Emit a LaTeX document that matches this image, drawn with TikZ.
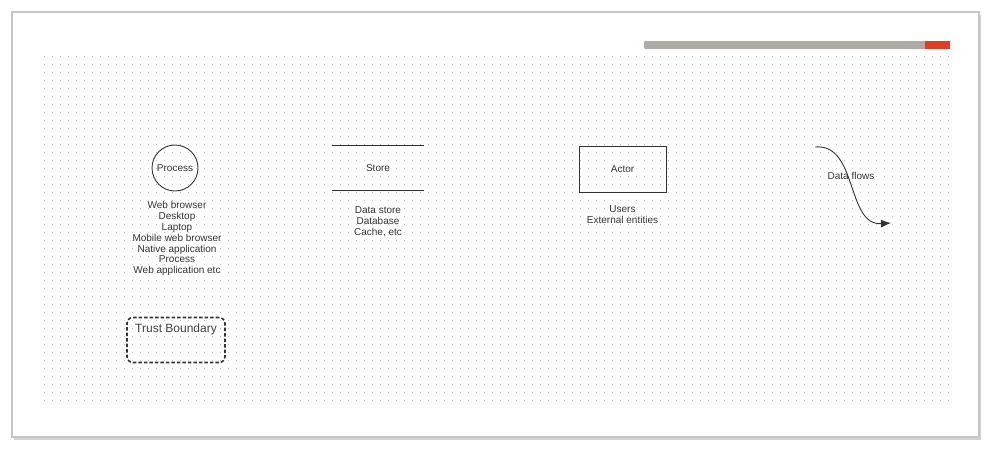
\documentclass[tikz,border=0pt]{standalone}
\usepackage{fontspec}
\setmainfont{Liberation Sans}
\usetikzlibrary{arrows,arrows.meta,calc,positioning,shadows}
\definecolor{ink}{HTML}{333333}
\definecolor{dotc}{HTML}{C4C4C4}
\definecolor{barg}{HTML}{B0AAA4}
\definecolor{barr}{HTML}{E03C28}
\tikzset{
        proc/.style = {draw=ink, circle, line width=0.9pt,
            minimum size=46pt, inner sep=0pt},
        actor/.style = {draw=ink, rectangle, line width=0.9pt,
            minimum height=46pt,
            minimum width=87pt},
        store/.style = {rectangle, minimum height=45pt, minimum width=92pt},
        desc/.style = {align=center, text=ink, inner sep=0pt,
            font=\fontsize{10}{10.8}\selectfont},
        trust/.style = {draw=ink, rounded corners=6pt, line width=1.6pt,
            dash pattern=on 3.5pt off 2pt,
            minimum height=45pt, minimum width=98pt},
        flow/.style = {draw=ink, -{Latex[length=10pt,width=8pt]}, line width=0.9pt},
    }

\begin{document}
\begin{tikzpicture}[x=1pt,y=-1pt,every node/.style={text=ink,font=\fontsize{10}{12}\selectfont}]
    \useasboundingbox (0,0) rectangle (992,450);
    \draw[gray!45, line width=1.5pt, fill=white,
          drop shadow={shadow xshift=2pt, shadow yshift=-3pt, opacity=0.35}]
          (12,12) rectangle (979,437);

    % dotted grid
    \foreach \y in {56,64,...,404}
        \draw[dotc, line width=1pt, dash pattern=on 1pt off 7pt] (44,\y) -- (950,\y);

    \fill[barg, rounded corners=1pt] (644,41) rectangle (926,49);
    \fill[barr] (925,41) rectangle (950,49);

    \node[proc] (p) at (175,168) {Process};
    \node[desc, below=10pt of p, xshift=2pt] (pd) {Web browser\\Desktop\\Laptop\\Mobile web browser\\Native application\\Process\\Web application etc};

    \node[store] (s) at (378,168) {Store};
    \draw[ink, line width=0.9pt] (s.north west) -- (s.north east);
    \draw[ink, line width=0.9pt] (s.south west) -- (s.south east);
    \node[desc, below=16pt of s] (sd) {Data store\\Database\\Cache, etc};

    \node[actor] (a) at (622.5,169) {Actor};
    \node[desc, below=13pt of a] (ad) {Users\\External entities};

    \coordinate (f1) at (815,147);
    \coordinate (f2) at (891,223);
    \draw[flow] (f1) .. controls (858,143) and (846,226) .. (f2);
    \node (fl) at (851,176) {Data flows};

    \node[trust] (t) at (176,340) {};
    \node[below=4pt of t.north, text=darkgray, font=\fontsize{12}{14}\selectfont] (tl) {Trust Boundary};
\end{tikzpicture}
\end{document}
